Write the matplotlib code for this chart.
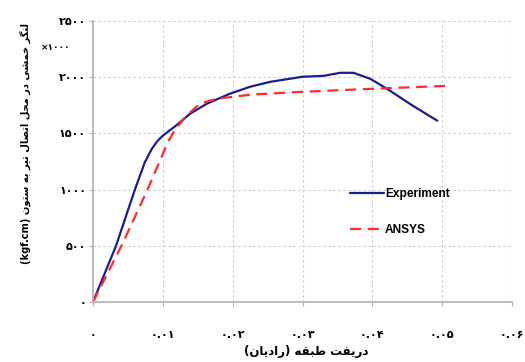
import matplotlib
matplotlib.use("Agg")
import matplotlib.pyplot as plt
from matplotlib.ticker import FuncFormatter

# moment-drift data, moment in kgf.cm x1000
exp_drift = [0.0, 0.0033, 0.0060, 0.0074, 0.0084, 0.0092, 0.0100, 0.0120, 0.0139,
             0.0163, 0.0196, 0.0225, 0.0254, 0.0300, 0.0330, 0.0354,
             0.0373, 0.0397, 0.0421, 0.0458, 0.0493]
exp_moment = [0, 500, 1000, 1240, 1360, 1430, 1480, 1575, 1675,
              1764, 1853, 1915, 1959, 2004, 2012, 2039,
              2039, 1986, 1897, 1746, 1613]

ansys_drift = [0.0, 0.0040, 0.0077, 0.0107, 0.0117, 0.0134, 0.0153, 0.0177,
               0.0225, 0.0300, 0.0400, 0.0511]
ansys_moment = [0, 490, 985, 1418, 1530, 1658, 1764, 1808,
                1844, 1870, 1897, 1924]

x_ticks = [0, 0.01, 0.02, 0.03, 0.04, 0.05, 0.06]
y_ticks = [0, 500, 1000, 1500, 2000, 2500]

x_title = "دریفت طبقه (رادیان)"
y_title = "لنگر خمشی در محل اتصال تیر به ستون"
y_unit = "(kgf.cm)"

FA_DIGITS = str.maketrans("0123456789", "۰۱۲۳۴۵۶۷۸۹")

# isolated, final, initial, medial presentation forms
FORMS = {
    "ا": ("\uFE8D", "\uFE8E", None, None),
    "د": ("\uFEA9", "\uFEAA", None, None),
    "ر": ("\uFEAD", "\uFEAE", None, None),
    "و": ("\uFEED", "\uFEEE", None, None),
    "ب": ("\uFE8F", "\uFE90", "\uFE91", "\uFE92"),
    "ت": ("\uFE95", "\uFE96", "\uFE97", "\uFE98"),
    "ح": ("\uFEA1", "\uFEA2", "\uFEA3", "\uFEA4"),
    "خ": ("\uFEA5", "\uFEA6", "\uFEA7", "\uFEA8"),
    "س": ("\uFEB1", "\uFEB2", "\uFEB3", "\uFEB4"),
    "ش": ("\uFEB5", "\uFEB6", "\uFEB7", "\uFEB8"),
    "ص": ("\uFEB9", "\uFEBA", "\uFEBB", "\uFEBC"),
    "ط": ("\uFEC1", "\uFEC2", "\uFEC3", "\uFEC4"),
    "ف": ("\uFED1", "\uFED2", "\uFED3", "\uFED4"),
    "ق": ("\uFED5", "\uFED6", "\uFED7", "\uFED8"),
    "گ": ("\uFB92", "\uFB93", "\uFB94", "\uFB95"),
    "ل": ("\uFEDD", "\uFEDE", "\uFEDF", "\uFEE0"),
    "م": ("\uFEE1", "\uFEE2", "\uFEE3", "\uFEE4"),
    "ن": ("\uFEE5", "\uFEE6", "\uFEE7", "\uFEE8"),
    "ه": ("\uFEE9", "\uFEEA", "\uFEEB", "\uFEEC"),
    "ی": ("\uFBFC", "\uFBFD", "\uFBFE", "\uFBFF"),
}
MIRROR = str.maketrans("()", ")(")


def fa(text):
    """Join Persian letters and put them in visual (left-to-right) order."""
    out = []
    for i, c in enumerate(text):
        if c not in FORMS:
            out.append(c)
            continue
        prev = text[i - 1] if i > 0 else ""
        nxt = text[i + 1] if i + 1 < len(text) else ""
        join_prev = prev in FORMS and FORMS[prev][2] is not None
        join_next = nxt in FORMS and FORMS[c][2] is not None
        iso, fin, ini, med = FORMS[c]
        if join_prev and join_next:
            out.append(med)
        elif join_prev:
            out.append(fin)
        elif join_next:
            out.append(ini)
        else:
            out.append(iso)
    return "".join(out)[::-1].translate(MIRROR)


plt.rcParams["font.family"] = ["DejaVu Sans"]

fig = plt.figure(figsize=(5.25, 3.62), dpi=100)
ax = fig.add_axes([93 / 525, 60 / 362, 419 / 525, 281 / 362])

ax.plot(exp_drift, exp_moment, color="#1c1c8e", lw=1.6, label="Experiment",
        solid_capstyle="round", solid_joinstyle="round")
ax.plot(ansys_drift, ansys_moment, color="#ff2a2a", lw=1.6, label="ANSYS",
        dashes=(5, 3))

ax.set_xlim(0, 0.06)
ax.set_ylim(0, 2500)
ax.set_xticks(x_ticks)
ax.set_yticks(y_ticks)
ax.xaxis.set_major_formatter(FuncFormatter(
    lambda v, p: "۰" if v == 0 else f"{v:.2f}".translate(FA_DIGITS)))
ax.yaxis.set_major_formatter(FuncFormatter(
    lambda v, p: f"{int(v)}".translate(FA_DIGITS)))

ax.grid(True, color="#c8c8c8", lw=0.8, linestyle=(0, (2, 2.5)))
ax.set_axisbelow(True)
for side in ("top", "right"):
    ax.spines[side].set_visible(False)
for side in ("left", "bottom"):
    ax.spines[side].set_color("#b0b0b0")
    ax.spines[side].set_linewidth(1.2)

ax.tick_params(axis="both", colors="#b0b0b0", length=3, width=0.8,
               labelcolor="black", labelsize=8)
ax.tick_params(axis="x", pad=17)
ax.tick_params(axis="y", pad=2)
for lab in ax.get_xticklabels() + ax.get_yticklabels():
    lab.set_fontweight("bold")

leg = ax.legend(loc="upper left", bbox_to_anchor=(0.614, 0.405), frameon=False,
                handlelength=2.8, handletextpad=0.1, labelspacing=2.0,
                borderaxespad=0, borderpad=0,
                prop={"family": "Liberation Sans", "weight": "bold", "size": 8.6})

fig.text(25 / 525, 1 - 144 / 362, y_unit + " " + fa(y_title), rotation=90,
         ha="center", va="center", fontsize=7.1, fontweight="bold")
fig.text(306 / 525, 1 - 352 / 362, fa(x_title), ha="center", va="center",
         fontsize=8.5, fontweight="bold")
fig.text(56 / 525, 1 - 48 / 362, "×" + "1000".translate(FA_DIGITS),
         ha="center", va="center", fontsize=6.5, fontweight="bold")

fig.savefig("out.png", dpi=100)
